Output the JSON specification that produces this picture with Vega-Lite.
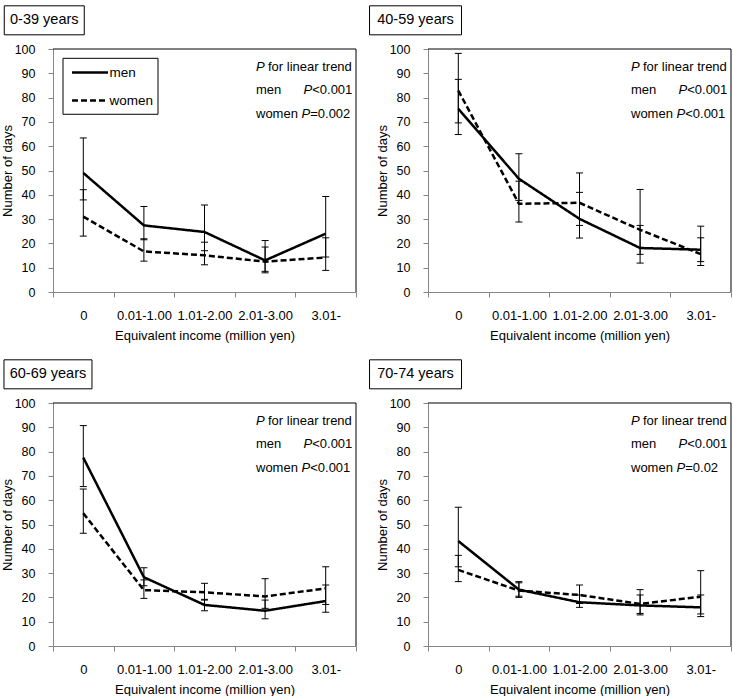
{
  "$schema": "https://vega.github.io/schema/vega-lite/v6.json",
  "padding": {"top": 3, "left": 1, "right": 0, "bottom": 0},
  "config": {
    "font": "Liberation Sans",
    "view": {"stroke": null},
    "axis": {"domainColor": "#868686", "tickColor": "#868686", "tickSize": 5, "grid": false, "labelColor": "black", "titleColor": "black", "titleFontWeight": "normal", "labelFontSize": 13, "titleFontSize": 13, "zindex": 1},
    "axisX": {"tickBand": "extent", "labelAngle": 0, "labelPadding": 12, "titlePadding": 7},
    "axisY": {"labelPadding": 13, "titlePadding": 0, "tickCount": 10, "labelFontSize": 12.5},
    "text": {"fontSize": 13, "color": "black"}
  },
  "datasets": {
    "pts": [
      {"age": "0-39 years", "income": "0", "sex": "men", "days": 49.0, "lo": 37.9, "hi": 63.4},
      {"age": "0-39 years", "income": "0.01-1.00", "sex": "men", "days": 27.4, "lo": 21.5, "hi": 35.2},
      {"age": "0-39 years", "income": "1.01-2.00", "sex": "men", "days": 24.7, "lo": 17.0, "hi": 35.8},
      {"age": "0-39 years", "income": "2.01-3.00", "sex": "men", "days": 13.0, "lo": 7.9, "hi": 21.2},
      {"age": "0-39 years", "income": "3.01-", "sex": "men", "days": 24.0, "lo": 14.4, "hi": 39.3},
      {"age": "0-39 years", "income": "0", "sex": "women", "days": 31.0, "lo": 23.0, "hi": 42.1},
      {"age": "0-39 years", "income": "0.01-1.00", "sex": "women", "days": 16.7, "lo": 12.7, "hi": 21.9},
      {"age": "0-39 years", "income": "1.01-2.00", "sex": "women", "days": 15.1, "lo": 11.2, "hi": 20.5},
      {"age": "0-39 years", "income": "2.01-3.00", "sex": "women", "days": 12.5, "lo": 8.5, "hi": 18.5},
      {"age": "0-39 years", "income": "3.01-", "sex": "women", "days": 14.2, "lo": 8.9, "hi": 22.3},
      {"age": "40-59 years", "income": "0", "sex": "men", "days": 75.4, "lo": 64.8, "hi": 87.5},
      {"age": "40-59 years", "income": "0.01-1.00", "sex": "men", "days": 46.6, "lo": 37.7, "hi": 56.9},
      {"age": "40-59 years", "income": "1.01-2.00", "sex": "men", "days": 30.1, "lo": 22.2, "hi": 41.0},
      {"age": "40-59 years", "income": "2.01-3.00", "sex": "men", "days": 18.1, "lo": 11.9, "hi": 27.4},
      {"age": "40-59 years", "income": "3.01-", "sex": "men", "days": 17.4, "lo": 12.5, "hi": 27.1},
      {"age": "40-59 years", "income": "0", "sex": "women", "days": 82.9, "lo": 69.6, "hi": 98.2},
      {"age": "40-59 years", "income": "0.01-1.00", "sex": "women", "days": 36.3, "lo": 28.8, "hi": 45.6},
      {"age": "40-59 years", "income": "1.01-2.00", "sex": "women", "days": 36.7, "lo": 27.4, "hi": 49.0},
      {"age": "40-59 years", "income": "2.01-3.00", "sex": "women", "days": 25.6, "lo": 15.5, "hi": 42.2},
      {"age": "40-59 years", "income": "3.01-", "sex": "women", "days": 15.6, "lo": 10.9, "hi": 22.3},
      {"age": "60-69 years", "income": "0", "sex": "men", "days": 77.5, "lo": 65.6, "hi": 90.7},
      {"age": "60-69 years", "income": "0.01-1.00", "sex": "men", "days": 28.3, "lo": 24.8, "hi": 32.2},
      {"age": "60-69 years", "income": "1.01-2.00", "sex": "men", "days": 16.9, "lo": 14.5, "hi": 19.2},
      {"age": "60-69 years", "income": "2.01-3.00", "sex": "men", "days": 14.5, "lo": 11.2, "hi": 18.9},
      {"age": "60-69 years", "income": "3.01-", "sex": "men", "days": 18.5, "lo": 13.9, "hi": 25.1},
      {"age": "60-69 years", "income": "0", "sex": "women", "days": 54.6, "lo": 46.4, "hi": 64.6},
      {"age": "60-69 years", "income": "0.01-1.00", "sex": "women", "days": 23.0, "lo": 19.6, "hi": 27.2},
      {"age": "60-69 years", "income": "1.01-2.00", "sex": "women", "days": 22.1, "lo": 18.9, "hi": 25.8},
      {"age": "60-69 years", "income": "2.01-3.00", "sex": "women", "days": 20.4, "lo": 15.5, "hi": 27.7},
      {"age": "60-69 years", "income": "3.01-", "sex": "women", "days": 23.7, "lo": 17.1, "hi": 32.6},
      {"age": "70-74 years", "income": "0", "sex": "men", "days": 43.2, "lo": 32.6, "hi": 57.1},
      {"age": "70-74 years", "income": "0.01-1.00", "sex": "men", "days": 23.2, "lo": 20.0, "hi": 26.5},
      {"age": "70-74 years", "income": "1.01-2.00", "sex": "men", "days": 18.0, "lo": 15.9, "hi": 21.0},
      {"age": "70-74 years", "income": "2.01-3.00", "sex": "men", "days": 16.7, "lo": 12.8, "hi": 21.0},
      {"age": "70-74 years", "income": "3.01-", "sex": "men", "days": 15.9, "lo": 12.1, "hi": 21.0},
      {"age": "70-74 years", "income": "0", "sex": "women", "days": 31.3, "lo": 26.5, "hi": 37.3},
      {"age": "70-74 years", "income": "0.01-1.00", "sex": "women", "days": 22.8, "lo": 20.5, "hi": 26.0},
      {"age": "70-74 years", "income": "1.01-2.00", "sex": "women", "days": 21.0, "lo": 17.5, "hi": 25.1},
      {"age": "70-74 years", "income": "2.01-3.00", "sex": "women", "days": 17.3, "lo": 13.4, "hi": 23.2},
      {"age": "70-74 years", "income": "3.01-", "sex": "women", "days": 20.3, "lo": 13.2, "hi": 31.0}
    ]
  },
  "resolve": {"legend": {"strokeDash": "independent"}},
  "spacing": 15,
  "vconcat": [
    {
      "resolve": {"legend": {"strokeDash": "independent"}},
      "spacing": 9,
      "hconcat": [
        {
          "width": 303, "height": 243,
          "data": {"name": "pts"},
          "transform": [{"filter": "datum.age === '0-39 years'"}],
          "layer": [
            {"mark": {"type": "rule", "color": "black", "strokeWidth": 1}, "encoding": {"x": {"field": "income", "type": "ordinal", "scale": {"domain": ["0", "0.01-1.00", "1.01-2.00", "2.01-3.00", "3.01-"], "paddingInner": 0, "paddingOuter": 0}, "axis": {"title": "Equivalent income (million yen)"}}, "y": {"field": "lo", "type": "quantitative", "scale": {"domain": [0, 100], "nice": false}, "axis": {"title": "Number of days", "tickCount": 10}}, "y2": {"field": "hi"}}},
            {"mark": {"type": "tick", "color": "black", "size": 7, "thickness": 1, "opacity": 1}, "encoding": {"x": {"field": "income", "type": "ordinal", "title": "Equivalent income (million yen)"}, "y": {"field": "lo", "type": "quantitative", "title": "Number of days"}}},
            {"mark": {"type": "tick", "color": "black", "size": 7, "thickness": 1, "opacity": 1}, "encoding": {"x": {"field": "income", "type": "ordinal", "title": "Equivalent income (million yen)"}, "y": {"field": "hi", "type": "quantitative", "title": "Number of days"}}},
            {"mark": {"type": "line", "color": "black", "strokeWidth": 2.5}, "encoding": {"x": {"field": "income", "type": "ordinal", "title": "Equivalent income (million yen)"}, "y": {"field": "days", "type": "quantitative", "title": "Number of days"}, "strokeDash": {"field": "sex", "type": "nominal", "scale": {"domain": ["men", "women"], "range": [[1, 0], [6, 3]]}, "legend": {"title": null, "orient": "top-left", "offset": 9, "padding": 4, "symbolType": "M-2,0H2", "symbolSize": 324, "symbolOffset": 13.5, "symbolStrokeWidth": 2.5, "symbolStrokeColor": "black", "labelFontSize": 13.5, "labelOffset": 9, "rowPadding": 11}}}},
            {"data": {"values": [{"part": "plot area border"}]}, "encoding": {"x": {"datum": "1.01-2.00", "type": "ordinal"}, "y": {"datum": 50, "type": "quantitative", "title": "Number of days"}},
              "layer": [
                {"mark": {"type": "point", "shape": "M-1,-0.80198H1V0.80198", "size": 91809, "filled": false, "color": "black", "strokeWidth": 1, "opacity": 1}}
              ]},
            {"data": {"values": [{"part": "legend border"}]}, "encoding": {"x": {"datum": "0", "type": "ordinal", "bandPosition": 0.949}, "y": {"datum": 84.65, "type": "quantitative", "title": "Number of days"}},
              "layer": [
                {"mark": {"type": "point", "shape": "M-1,-0.589H1V0.589H-1Z", "size": 9025, "filled": false, "color": "black", "strokeWidth": 1, "opacity": 1}}
              ]},
            {"data": {"values": [{"label": "0-39 years"}]}, "encoding": {"x": {"datum": "0", "type": "ordinal", "bandPosition": -0.144}, "y": {"datum": 111.8, "type": "quantitative", "title": "Number of days"}},
              "layer": [
                {"mark": {"type": "point", "shape": "M-1,-0.3625H1V0.3625H-1Z", "size": 6400, "filled": false, "stroke": "black", "strokeWidth": 1, "opacity": 1}},
                {"mark": {"type": "text", "align": "center", "baseline": "middle", "fontSize": 14.5}, "encoding": {"text": {"field": "label"}}}
              ]},
            {"data": {"values": [{"p": "P", "rest": "for linear trend"}]}, "encoding": {"x": {"datum": "3.01-", "type": "ordinal", "bandPosition": 1}, "y": {"datum": 92.5, "type": "quantitative", "title": "Number of days"}},
              "layer": [
                {"mark": {"type": "text", "align": "left", "baseline": "middle", "dx": -100, "fontStyle": "italic"}, "encoding": {"text": {"field": "p"}}},
                {"mark": {"type": "text", "align": "left", "baseline": "middle", "dx": -88}, "encoding": {"text": {"field": "rest"}}}
              ]},
            {"data": {"values": [{"who": "men", "p": "P", "rest": "<0.001"}]}, "encoding": {"x": {"datum": "3.01-", "type": "ordinal", "bandPosition": 1}, "y": {"datum": 83, "type": "quantitative", "title": "Number of days"}},
              "layer": [
                {"mark": {"type": "text", "align": "left", "baseline": "middle", "dx": -100}, "encoding": {"text": {"field": "who"}}},
                {"mark": {"type": "text", "align": "left", "baseline": "middle", "dx": -52.5, "fontStyle": "italic"}, "encoding": {"text": {"field": "p"}}},
                {"mark": {"type": "text", "align": "left", "baseline": "middle", "dx": -43.8}, "encoding": {"text": {"field": "rest"}}}
              ]},
            {"data": {"values": [{"who": "women", "p": "P", "rest": "=0.002"}]}, "encoding": {"x": {"datum": "3.01-", "type": "ordinal", "bandPosition": 1}, "y": {"datum": 73.3, "type": "quantitative", "title": "Number of days"}},
              "layer": [
                {"mark": {"type": "text", "align": "left", "baseline": "middle", "dx": -100}, "encoding": {"text": {"field": "who"}}},
                {"mark": {"type": "text", "align": "left", "baseline": "middle", "dx": -54.5, "fontStyle": "italic"}, "encoding": {"text": {"field": "p"}}},
                {"mark": {"type": "text", "align": "left", "baseline": "middle", "dx": -45.8}, "encoding": {"text": {"field": "rest"}}}
              ]}
          ]
        },
        {
          "width": 303, "height": 243,
          "data": {"name": "pts"},
          "transform": [{"filter": "datum.age === '40-59 years'"}],
          "layer": [
            {"mark": {"type": "rule", "color": "black", "strokeWidth": 1}, "encoding": {"x": {"field": "income", "type": "ordinal", "scale": {"domain": ["0", "0.01-1.00", "1.01-2.00", "2.01-3.00", "3.01-"], "paddingInner": 0, "paddingOuter": 0}, "axis": {"title": "Equivalent income (million yen)"}}, "y": {"field": "lo", "type": "quantitative", "scale": {"domain": [0, 100], "nice": false}, "axis": {"title": "Number of days", "tickCount": 10}}, "y2": {"field": "hi"}}},
            {"mark": {"type": "tick", "color": "black", "size": 7, "thickness": 1, "opacity": 1}, "encoding": {"x": {"field": "income", "type": "ordinal", "title": "Equivalent income (million yen)"}, "y": {"field": "lo", "type": "quantitative", "title": "Number of days"}}},
            {"mark": {"type": "tick", "color": "black", "size": 7, "thickness": 1, "opacity": 1}, "encoding": {"x": {"field": "income", "type": "ordinal", "title": "Equivalent income (million yen)"}, "y": {"field": "hi", "type": "quantitative", "title": "Number of days"}}},
            {"mark": {"type": "line", "color": "black", "strokeWidth": 2.5}, "encoding": {"x": {"field": "income", "type": "ordinal", "title": "Equivalent income (million yen)"}, "y": {"field": "days", "type": "quantitative", "title": "Number of days"}, "strokeDash": {"field": "sex", "type": "nominal", "scale": {"domain": ["men", "women"], "range": [[1, 0], [6, 3]]}, "legend": null}}},
            {"data": {"values": [{"part": "plot area border"}]}, "encoding": {"x": {"datum": "1.01-2.00", "type": "ordinal"}, "y": {"datum": 50, "type": "quantitative", "title": "Number of days"}},
              "layer": [
                {"mark": {"type": "point", "shape": "M-1,-0.80198H1V0.80198", "size": 91809, "filled": false, "color": "black", "strokeWidth": 1, "opacity": 1}}
              ]},
            {"data": {"values": [{"label": "40-59 years"}]}, "encoding": {"x": {"datum": "0", "type": "ordinal", "bandPosition": -0.206}, "y": {"datum": 111.8, "type": "quantitative", "title": "Number of days"}},
              "layer": [
                {"mark": {"type": "point", "shape": "M-1,-0.3152H1V0.3152H-1Z", "size": 8464, "filled": false, "stroke": "black", "strokeWidth": 1, "opacity": 1}},
                {"mark": {"type": "text", "align": "center", "baseline": "middle", "fontSize": 14.5}, "encoding": {"text": {"field": "label"}}}
              ]},
            {"data": {"values": [{"p": "P", "rest": "for linear trend"}]}, "encoding": {"x": {"datum": "3.01-", "type": "ordinal", "bandPosition": 1}, "y": {"datum": 92.5, "type": "quantitative", "title": "Number of days"}},
              "layer": [
                {"mark": {"type": "text", "align": "left", "baseline": "middle", "dx": -100, "fontStyle": "italic"}, "encoding": {"text": {"field": "p"}}},
                {"mark": {"type": "text", "align": "left", "baseline": "middle", "dx": -88}, "encoding": {"text": {"field": "rest"}}}
              ]},
            {"data": {"values": [{"who": "men", "p": "P", "rest": "<0.001"}]}, "encoding": {"x": {"datum": "3.01-", "type": "ordinal", "bandPosition": 1}, "y": {"datum": 83, "type": "quantitative", "title": "Number of days"}},
              "layer": [
                {"mark": {"type": "text", "align": "left", "baseline": "middle", "dx": -100}, "encoding": {"text": {"field": "who"}}},
                {"mark": {"type": "text", "align": "left", "baseline": "middle", "dx": -52.5, "fontStyle": "italic"}, "encoding": {"text": {"field": "p"}}},
                {"mark": {"type": "text", "align": "left", "baseline": "middle", "dx": -43.8}, "encoding": {"text": {"field": "rest"}}}
              ]},
            {"data": {"values": [{"who": "women", "p": "P", "rest": "<0.001"}]}, "encoding": {"x": {"datum": "3.01-", "type": "ordinal", "bandPosition": 1}, "y": {"datum": 73.3, "type": "quantitative", "title": "Number of days"}},
              "layer": [
                {"mark": {"type": "text", "align": "left", "baseline": "middle", "dx": -100}, "encoding": {"text": {"field": "who"}}},
                {"mark": {"type": "text", "align": "left", "baseline": "middle", "dx": -54.5, "fontStyle": "italic"}, "encoding": {"text": {"field": "p"}}},
                {"mark": {"type": "text", "align": "left", "baseline": "middle", "dx": -45.8}, "encoding": {"text": {"field": "rest"}}}
              ]}
          ]
        }
      ]
    },
    {
      "spacing": 9,
      "hconcat": [
        {
          "width": 303, "height": 243,
          "data": {"name": "pts"},
          "transform": [{"filter": "datum.age === '60-69 years'"}],
          "layer": [
            {"mark": {"type": "rule", "color": "black", "strokeWidth": 1}, "encoding": {"x": {"field": "income", "type": "ordinal", "scale": {"domain": ["0", "0.01-1.00", "1.01-2.00", "2.01-3.00", "3.01-"], "paddingInner": 0, "paddingOuter": 0}, "axis": {"title": "Equivalent income (million yen)"}}, "y": {"field": "lo", "type": "quantitative", "scale": {"domain": [0, 100], "nice": false}, "axis": {"title": "Number of days", "tickCount": 10}}, "y2": {"field": "hi"}}},
            {"mark": {"type": "tick", "color": "black", "size": 7, "thickness": 1, "opacity": 1}, "encoding": {"x": {"field": "income", "type": "ordinal", "title": "Equivalent income (million yen)"}, "y": {"field": "lo", "type": "quantitative", "title": "Number of days"}}},
            {"mark": {"type": "tick", "color": "black", "size": 7, "thickness": 1, "opacity": 1}, "encoding": {"x": {"field": "income", "type": "ordinal", "title": "Equivalent income (million yen)"}, "y": {"field": "hi", "type": "quantitative", "title": "Number of days"}}},
            {"mark": {"type": "line", "color": "black", "strokeWidth": 2.5}, "encoding": {"x": {"field": "income", "type": "ordinal", "title": "Equivalent income (million yen)"}, "y": {"field": "days", "type": "quantitative", "title": "Number of days"}, "strokeDash": {"field": "sex", "type": "nominal", "scale": {"domain": ["men", "women"], "range": [[1, 0], [6, 3]]}, "legend": null}}},
            {"data": {"values": [{"part": "plot area border"}]}, "encoding": {"x": {"datum": "1.01-2.00", "type": "ordinal"}, "y": {"datum": 50, "type": "quantitative", "title": "Number of days"}},
              "layer": [
                {"mark": {"type": "point", "shape": "M-1,-0.80198H1V0.80198", "size": 91809, "filled": false, "color": "black", "strokeWidth": 1, "opacity": 1}}
              ]},
            {"data": {"values": [{"label": "60-69 years"}]}, "encoding": {"x": {"datum": "0", "type": "ordinal", "bandPosition": -0.083}, "y": {"datum": 111.8, "type": "quantitative", "title": "Number of days"}},
              "layer": [
                {"mark": {"type": "point", "shape": "M-1,-0.3295H1V0.3295H-1Z", "size": 7744, "filled": false, "stroke": "black", "strokeWidth": 1, "opacity": 1}},
                {"mark": {"type": "text", "align": "center", "baseline": "middle", "fontSize": 14.5}, "encoding": {"text": {"field": "label"}}}
              ]},
            {"data": {"values": [{"p": "P", "rest": "for linear trend"}]}, "encoding": {"x": {"datum": "3.01-", "type": "ordinal", "bandPosition": 1}, "y": {"datum": 92.5, "type": "quantitative", "title": "Number of days"}},
              "layer": [
                {"mark": {"type": "text", "align": "left", "baseline": "middle", "dx": -100, "fontStyle": "italic"}, "encoding": {"text": {"field": "p"}}},
                {"mark": {"type": "text", "align": "left", "baseline": "middle", "dx": -88}, "encoding": {"text": {"field": "rest"}}}
              ]},
            {"data": {"values": [{"who": "men", "p": "P", "rest": "<0.001"}]}, "encoding": {"x": {"datum": "3.01-", "type": "ordinal", "bandPosition": 1}, "y": {"datum": 83, "type": "quantitative", "title": "Number of days"}},
              "layer": [
                {"mark": {"type": "text", "align": "left", "baseline": "middle", "dx": -100}, "encoding": {"text": {"field": "who"}}},
                {"mark": {"type": "text", "align": "left", "baseline": "middle", "dx": -52.5, "fontStyle": "italic"}, "encoding": {"text": {"field": "p"}}},
                {"mark": {"type": "text", "align": "left", "baseline": "middle", "dx": -43.8}, "encoding": {"text": {"field": "rest"}}}
              ]},
            {"data": {"values": [{"who": "women", "p": "P", "rest": "<0.001"}]}, "encoding": {"x": {"datum": "3.01-", "type": "ordinal", "bandPosition": 1}, "y": {"datum": 73.3, "type": "quantitative", "title": "Number of days"}},
              "layer": [
                {"mark": {"type": "text", "align": "left", "baseline": "middle", "dx": -100}, "encoding": {"text": {"field": "who"}}},
                {"mark": {"type": "text", "align": "left", "baseline": "middle", "dx": -54.5, "fontStyle": "italic"}, "encoding": {"text": {"field": "p"}}},
                {"mark": {"type": "text", "align": "left", "baseline": "middle", "dx": -45.8}, "encoding": {"text": {"field": "rest"}}}
              ]}
          ]
        },
        {
          "width": 303, "height": 243,
          "data": {"name": "pts"},
          "transform": [{"filter": "datum.age === '70-74 years'"}],
          "layer": [
            {"mark": {"type": "rule", "color": "black", "strokeWidth": 1}, "encoding": {"x": {"field": "income", "type": "ordinal", "scale": {"domain": ["0", "0.01-1.00", "1.01-2.00", "2.01-3.00", "3.01-"], "paddingInner": 0, "paddingOuter": 0}, "axis": {"title": "Equivalent income (million yen)"}}, "y": {"field": "lo", "type": "quantitative", "scale": {"domain": [0, 100], "nice": false}, "axis": {"title": "Number of days", "tickCount": 10}}, "y2": {"field": "hi"}}},
            {"mark": {"type": "tick", "color": "black", "size": 7, "thickness": 1, "opacity": 1}, "encoding": {"x": {"field": "income", "type": "ordinal", "title": "Equivalent income (million yen)"}, "y": {"field": "lo", "type": "quantitative", "title": "Number of days"}}},
            {"mark": {"type": "tick", "color": "black", "size": 7, "thickness": 1, "opacity": 1}, "encoding": {"x": {"field": "income", "type": "ordinal", "title": "Equivalent income (million yen)"}, "y": {"field": "hi", "type": "quantitative", "title": "Number of days"}}},
            {"mark": {"type": "line", "color": "black", "strokeWidth": 2.5}, "encoding": {"x": {"field": "income", "type": "ordinal", "title": "Equivalent income (million yen)"}, "y": {"field": "days", "type": "quantitative", "title": "Number of days"}, "strokeDash": {"field": "sex", "type": "nominal", "scale": {"domain": ["men", "women"], "range": [[1, 0], [6, 3]]}, "legend": null}}},
            {"data": {"values": [{"part": "plot area border"}]}, "encoding": {"x": {"datum": "1.01-2.00", "type": "ordinal"}, "y": {"datum": 50, "type": "quantitative", "title": "Number of days"}},
              "layer": [
                {"mark": {"type": "point", "shape": "M-1,-0.80198H1V0.80198", "size": 91809, "filled": false, "color": "black", "strokeWidth": 1, "opacity": 1}}
              ]},
            {"data": {"values": [{"label": "70-74 years"}]}, "encoding": {"x": {"datum": "0", "type": "ordinal", "bandPosition": -0.206}, "y": {"datum": 111.8, "type": "quantitative", "title": "Number of days"}},
              "layer": [
                {"mark": {"type": "point", "shape": "M-1,-0.3152H1V0.3152H-1Z", "size": 8464, "filled": false, "stroke": "black", "strokeWidth": 1, "opacity": 1}},
                {"mark": {"type": "text", "align": "center", "baseline": "middle", "fontSize": 14.5}, "encoding": {"text": {"field": "label"}}}
              ]},
            {"data": {"values": [{"p": "P", "rest": "for linear trend"}]}, "encoding": {"x": {"datum": "3.01-", "type": "ordinal", "bandPosition": 1}, "y": {"datum": 92.5, "type": "quantitative", "title": "Number of days"}},
              "layer": [
                {"mark": {"type": "text", "align": "left", "baseline": "middle", "dx": -100, "fontStyle": "italic"}, "encoding": {"text": {"field": "p"}}},
                {"mark": {"type": "text", "align": "left", "baseline": "middle", "dx": -88}, "encoding": {"text": {"field": "rest"}}}
              ]},
            {"data": {"values": [{"who": "men", "p": "P", "rest": "<0.001"}]}, "encoding": {"x": {"datum": "3.01-", "type": "ordinal", "bandPosition": 1}, "y": {"datum": 83, "type": "quantitative", "title": "Number of days"}},
              "layer": [
                {"mark": {"type": "text", "align": "left", "baseline": "middle", "dx": -100}, "encoding": {"text": {"field": "who"}}},
                {"mark": {"type": "text", "align": "left", "baseline": "middle", "dx": -52.5, "fontStyle": "italic"}, "encoding": {"text": {"field": "p"}}},
                {"mark": {"type": "text", "align": "left", "baseline": "middle", "dx": -43.8}, "encoding": {"text": {"field": "rest"}}}
              ]},
            {"data": {"values": [{"who": "women", "p": "P", "rest": "=0.02"}]}, "encoding": {"x": {"datum": "3.01-", "type": "ordinal", "bandPosition": 1}, "y": {"datum": 73.3, "type": "quantitative", "title": "Number of days"}},
              "layer": [
                {"mark": {"type": "text", "align": "left", "baseline": "middle", "dx": -100}, "encoding": {"text": {"field": "who"}}},
                {"mark": {"type": "text", "align": "left", "baseline": "middle", "dx": -54.5, "fontStyle": "italic"}, "encoding": {"text": {"field": "p"}}},
                {"mark": {"type": "text", "align": "left", "baseline": "middle", "dx": -45.8}, "encoding": {"text": {"field": "rest"}}}
              ]}
          ]
        }
      ]
    }
  ]
}
